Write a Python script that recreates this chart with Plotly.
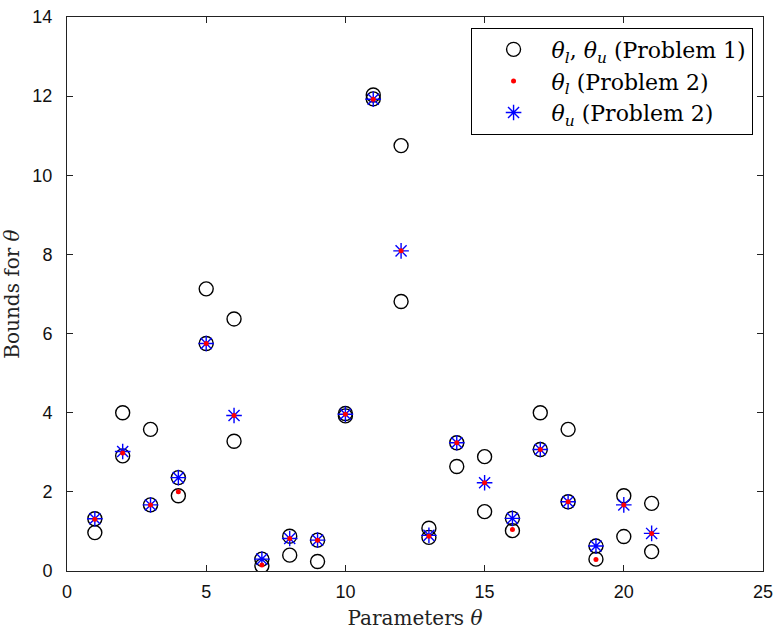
import plotly.graph_objects as go

params = list(range(1, 22))
p1_lower = [0.97, 2.91, 1.67, 1.90, 5.75, 3.28, 0.13, 0.40, 0.24, 3.92, 11.93, 6.81,
            0.85, 2.64, 1.50, 1.02, 3.07, 1.75, 0.30, 0.87, 0.49]
p1_upper = [1.32, 4.00, 3.58, 2.36, 7.13, 6.37, 0.30, 0.88, 0.78, 3.98, 12.03, 10.75,
            1.08, 3.24, 2.89, 1.33, 4.00, 3.58, 0.63, 1.90, 1.71]
p2_lower = [1.31, 2.98, 1.67, 2.00, 5.75, 3.93, 0.15, 0.82, 0.78, 3.96, 11.92, 8.09,
            0.88, 3.24, 2.23, 1.05, 3.07, 1.75, 0.29, 1.67, 0.95]
p2_upper = [1.32, 3.02, 1.67, 2.36, 5.75, 3.93, 0.30, 0.82, 0.78, 3.96, 11.92, 8.09,
            0.90, 3.24, 2.23, 1.33, 3.07, 1.75, 0.63, 1.67, 0.95]

x_ticks = [0, 5, 10, 15, 20, 25]
y_ticks = [0, 2, 4, 6, 8, 10, 12, 14]

serif = "DejaVu Serif"
sans = "Liberation Sans"

fig = go.Figure()
fig.add_trace(go.Scatter(
    x=params + params, y=p1_lower + p1_upper, mode="markers",
    name="<i>θ<sub>l</sub></i>, <i>θ<sub>u</sub></i> (Problem 1)",
    marker=dict(symbol="circle-open", size=14, color="black", line=dict(width=1.4, color="#111")),
    legendrank=1,
))
fig.add_trace(go.Scatter(
    x=params, y=p2_upper, mode="markers",
    name="<i>θ<sub>u</sub></i> (Problem 2)",
    marker=dict(symbol="asterisk-open", size=13, color="blue", line=dict(width=1.4, color="blue")),
    legendrank=3,
))
fig.add_trace(go.Scatter(
    x=params, y=p2_lower, mode="markers",
    name="<i>θ<sub>l</sub></i> (Problem 2)",
    marker=dict(symbol="circle", size=5, color="red"),
    legendrank=2,
))

axis_common = dict(
    showline=True, linecolor="#222", linewidth=1, mirror="ticks",
    ticks="inside", ticklen=6, tickcolor="#222", showgrid=False, zeroline=False,
    tickfont=dict(family=sans, size=18, color="#111"), automargin=False,
    ticklabeloverflow="allow",
)
fig.update_xaxes(range=[0, 25], tickvals=x_ticks, ticklabelstandoff=4,
                 title=dict(text="Parameters <i>θ</i>", font=dict(family=serif, size=20, color="#222"), standoff=10),
                 **axis_common)
fig.update_yaxes(range=[0, 14], tickvals=y_ticks, ticklabelstandoff=10,
                 title=dict(text="Bounds for <i>θ</i>", font=dict(family=serif, size=20, color="#222"), standoff=8),
                 **axis_common)

fig.update_layout(
    width=774, height=632,
    margin=dict(l=67, r=11, t=17, b=61),
    plot_bgcolor="white", paper_bgcolor="white",
    legend=dict(x=0.985, y=0.981, xanchor="right", yanchor="top",
                bgcolor="white", bordercolor="black", borderwidth=1,
                font=dict(family=serif, size=22, color="black"),
                tracegroupgap=0, itemsizing="trace", indentation=4, itemwidth=66),
)

fig.write_html("out.html", config={"displayModeBar": False},
               post_script="document.body.style.margin='0';document.body.style.overflow='hidden';")
